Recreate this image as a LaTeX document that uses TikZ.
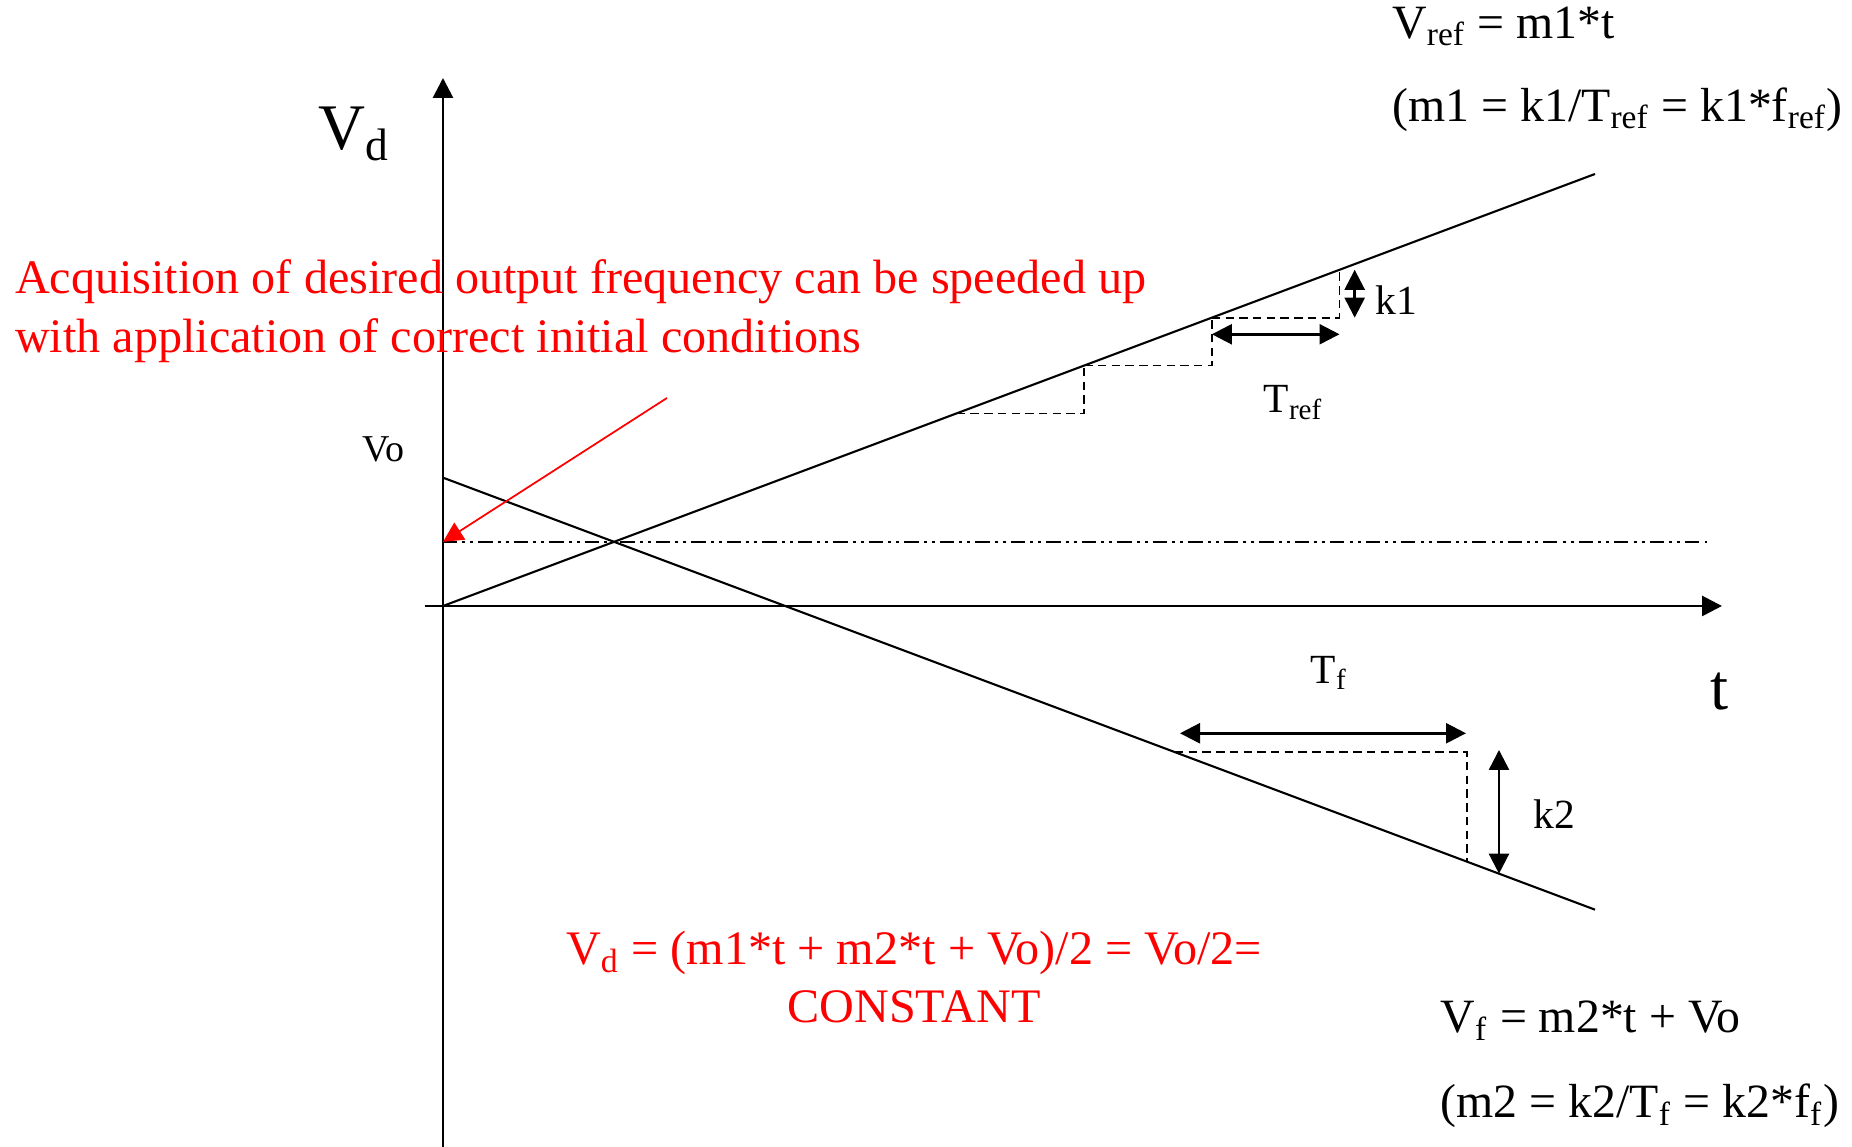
\documentclass[tikz,border=0pt]{standalone}
\usepackage{fontspec}
\setmainfont{Liberation Serif}
\usetikzlibrary{arrows.meta, positioning}

\begin{document}
\begin{tikzpicture}[
    >={Triangle[length=2mm, width=2mm]},
    axis/.style={line width=0.8pt, ->},
    curve/.style={line width=0.6pt},
    stepline/.style={line width=0.5pt, dash pattern=on 2.4pt off 1.5pt},
    halfline/.style={line width=0.6pt, dash pattern=on 4pt off 1.5pt on 0.8pt off 1.5pt on 0.8pt off 1.5pt},
    dim/.style={line width=0.7pt, <->},
    note/.style={red, line width=0.5pt, ->},
    big/.style={inner sep=0pt, font=\fontsize{18.5}{20}\selectfont},
    lbl/.style={inner sep=0pt, font=\fontsize{11.8}{13}\selectfont},
    small/.style={inner sep=0pt, font=\fontsize{10.8}{12}\selectfont},
    formula/.style={inner sep=0pt, anchor=base west, font=\fontsize{13.6}{15}\selectfont},
    redtext/.style={inner sep=0pt, text=red, font=\fontsize{13.7}{15}\selectfont}
]
\useasboundingbox (-4.43,-5.41) rectangle (14.09,6.06);

% Axes
\coordinate (O) at (0,0);
\coordinate (ytop) at (0,5.28);
\coordinate (ybot) at (0,-5.41);
\coordinate (xleft) at (-0.18,0);
\coordinate (xright) at (12.79,0);
\draw[axis] (ybot) -- (ytop);
\draw[axis] (xleft) -- (xright);

% Ramps
\coordinate (vo) at (0,1.283);
\coordinate (refend) at (11.52,4.32);
\coordinate (fend) at (11.52,-3.037);
\draw[curve] (O) -- (refend);
\draw[curve] (vo) -- (fend);

% Vo/2 level
\coordinate (half) at (0,0.641);
\coordinate (halfend) at (12.64,0.641);
\draw[halfline] (half) -- (halfend);

% Steps of the reference ramp
\foreach \i in {0,1,2}
  \draw[stepline] (5.137+\i*1.276, 1.926+\i*0.4785) -- ++(1.276,0) -- ++(0,0.4785);

% Step of the feedback ramp
\draw[stepline] (7.32,-1.462) -- (10.237,-1.462) -- (10.237,-2.556);

% Dimension arrows
\coordinate (trefa) at (7.689,2.717);
\coordinate (trefb) at (8.965,2.717);
\coordinate (k1a) at (9.117,2.883);
\coordinate (k1b) at (9.117,3.362);
\coordinate (tfa) at (7.37,-1.273);
\coordinate (tfb) at (10.23,-1.273);
\coordinate (k2a) at (10.56,-1.44);
\coordinate (k2b) at (10.56,-2.677);
\draw[dim] (trefa) -- (trefb);
\draw[dim] (k1a) -- (k1b);
\draw[dim] (tfa) -- (tfb);
\draw[dim] (k2a) -- (k2b);

% Labels
\node[big, anchor=base west] (vd) at (-1.25,4.56) {V\textsubscript{d}};
\node[big, anchor=base] (tlbl) at (12.77,-1.04) {t};
\node[small, anchor=base west] (volbl) at (-0.81,1.44) {Vo};
\node[lbl, anchor=base west] (k1) at (9.32,2.91) {k1};
\node[lbl, anchor=base west] (tref) at (8.20,1.93) {T\textsubscript{ref}};
\node[lbl, anchor=base west] (tf) at (8.67,-0.773) {T\textsubscript{f}};
\node[lbl, anchor=base west] (k2) at (10.90,-2.223) {k2};

% Ramp equations
\node[formula] (vref) at (9.487,5.677) {V\textsubscript{ref} = m1*t};
\node[formula] (mref) at ([yshift=-0.83cm]vref.base west) {(m1 = k1/T\textsubscript{ref} = k1*f\textsubscript{ref})};
\node[formula] (vf) at (9.97,-4.27) {V\textsubscript{f} = m2*t + Vo};
\node[formula] (mf) at ([yshift=-0.85cm]vf.base west) {(m2 = k2/T\textsubscript{f} = k2*f\textsubscript{f})};

% Red notes
\node[redtext, anchor=base west] (acq) at (-4.285,3.127) {Acquisition of desired output frequency can be speeded up};
\node[redtext, anchor=base west] (acq2) at ([yshift=-0.59cm]acq.base west) {with application of correct initial conditions};
\coordinate (notestart) at (2.24,2.08);
\draw[note] (notestart) -- (half);
\node[redtext, anchor=base] (vdeq) at (4.71,-3.59) {V\textsubscript{d} = (m1*t + m2*t + Vo)/2 = Vo/2=};
\node[redtext, anchor=base] (const) at ([yshift=-0.58cm]vdeq.base) {CONSTANT};

\end{tikzpicture}
\end{document}
